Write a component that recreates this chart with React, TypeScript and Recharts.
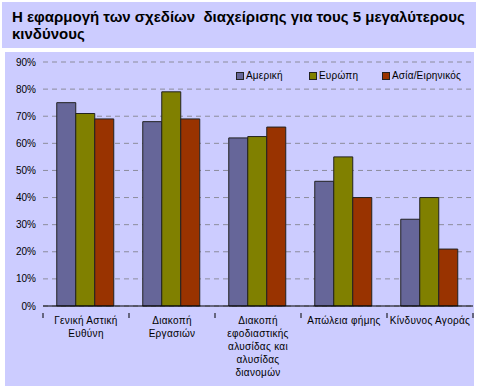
import { Bar, BarChart, CartesianGrid, XAxis, YAxis } from 'recharts';

const categories = [
  ['Γενική Αστική', 'Ευθύνη'],
  ['Διακοπή', 'Εργασιών'],
  ['Διακοπή', 'εφοδιαστικής', 'αλυσίδας και', 'αλυσίδας', 'διανομών'],
  ['Απώλεια φήμης'],
  ['Κίνδυνος Αγοράς'],
];
const america = [75, 68, 62, 46, 32];
const europe = [71, 79, 62.5, 55, 40];
const asia = [69, 69, 66, 40, 21];
const yTicks = [0, 10, 20, 30, 40, 50, 60, 70, 80, 90];

const seriesNames = ['Αμερική', 'Ευρώπη', 'Ασία/Ειρηνικός'];
const colors = ['#666699', '#808000', '#993300'];
const titleLines = ['Η εφαρμογή των σχεδίων  διαχείρισης για τους 5 μεγαλύτερους', 'κινδύνους'];

const FONT = '"Liberation Sans", Arial, sans-serif';

const data = categories.map((c, i) => ({
  name: c.join('\n'),
  america: america[i],
  europe: europe[i],
  asia: asia[i],
}));

function CategoryTick(props: any) {
  const { x, y, payload, index } = props;
  const lines = String(payload.value).split('\n');
  const half = 43;
  return (
    <g>
      <line x1={x - half} x2={x - half} y1={y - 1} y2={y + 4} stroke="#000" />
      {index === categories.length - 1 && (
        <line x1={x + half} x2={x + half} y1={y - 1} y2={y + 4} stroke="#000" />
      )}
      <text
        x={x}
        y={y + 10}
        textAnchor="middle"
        fontSize={10}
        letterSpacing={0.3}
        fill="#000"
        fontFamily={FONT}
      >
        {lines.map((l, i) => (
          <tspan key={i} x={x} dy={i === 0 ? 0 : 13}>
            {l}
          </tspan>
        ))}
      </text>
    </g>
  );
}

function LegendBox() {
  return (
    <div
      style={{
        position: 'absolute',
        left: 236,
        top: 70,
        display: 'flex',
        fontFamily: FONT,
        fontSize: 10,
        letterSpacing: 0.2,
        color: '#000',
      }}
    >
      {seriesNames.map((n, i) => (
        <div key={n} style={{ display: 'flex', alignItems: 'center', width: i === 2 ? 80 : 73 }}>
          <span
            style={{
              display: 'inline-block',
              width: 6,
              height: 6,
              background: colors[i],
              border: '1px solid #222',
              marginRight: 2,
            }}
          />
          {n}
        </div>
      ))}
    </div>
  );
}

export default function App() {
  return (
    <div style={{ position: 'absolute', left: 0, top: 0, width: 480, height: 388, background: '#fff' }}>
      <div
        style={{
          position: 'absolute',
          left: 2,
          top: 2,
          width: 474,
          height: 46,
          background: '#ccccff',
          fontFamily: FONT,
          fontWeight: 'bold',
          fontSize: 15,
          lineHeight: '17px',
          color: '#000',
          boxSizing: 'border-box',
          padding: '6px 0 0 10px',
          whiteSpace: 'pre',
          overflow: 'hidden',
        }}
      >
        {titleLines.join('\n')}
      </div>
      <div style={{ position: 'absolute', left: 5, top: 52, width: 469, height: 334, background: '#ccccff' }}>
        <BarChart
          width={469}
          height={334}
          data={data}
          margin={{ top: 10, right: 1, bottom: 0, left: 0 }}
          barCategoryGap="16%"
          barGap={0}
        >
          <CartesianGrid vertical={false} stroke="#8c8c9c" strokeDasharray="5 4" />
          <XAxis
            dataKey="name"
            interval={0}
            height={80}
            axisLine={{ stroke: '#000' }}
            tickLine={false}
            tick={<CategoryTick />}
          />
          <YAxis
            width={38}
            domain={[0, 90]}
            ticks={yTicks}
            axisLine={false}
            tickLine={false}
            tickSize={0}
            tickMargin={7}
            tickFormatter={(v) => `${v}%`}
            tick={{ fontSize: 10, fill: '#000', fontFamily: FONT }}
          />
          <Bar dataKey="america" name={seriesNames[0]} fill={colors[0]} stroke="#222" isAnimationActive={false} />
          <Bar dataKey="europe" name={seriesNames[1]} fill={colors[1]} stroke="#222" isAnimationActive={false} />
          <Bar dataKey="asia" name={seriesNames[2]} fill={colors[2]} stroke="#222" isAnimationActive={false} />
        </BarChart>
      </div>
      <LegendBox />
    </div>
  );
}
